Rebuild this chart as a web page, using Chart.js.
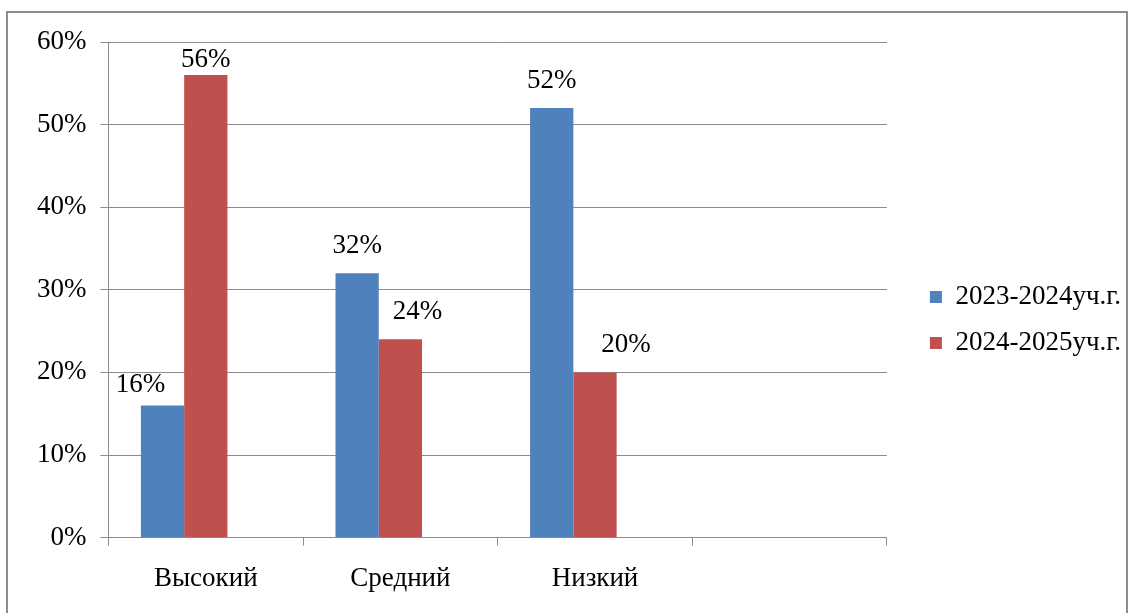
<!DOCTYPE html>
<html lang="ru">
<head>
<meta charset="utf-8">
<title>Уровни</title>
<script src="https://cdn.jsdelivr.net/npm/chart.js@4.4.1/dist/chart.umd.min.js"></script>
<style>
  html, body { margin: 0; padding: 0; background: #fff; }
  body { width: 1134px; height: 613px; position: relative; overflow: hidden; }
  #frame {
    position: absolute; left: 6px; top: 11px; width: 1122px; height: 640px;
    border: 2px solid #8c8c8c; box-sizing: border-box;
  }
  #wrap { position: absolute; left: 0; top: 0; width: 1134px; height: 613px; }
</style>
</head>
<body>
<div id="frame"></div>
<div id="wrap"><canvas id="chartLivelli"></canvas></div>
<script>
// dati
const categorie = ["Высокий", "Средний", "Низкий", ""];
const serie2324 = [16, 32, 52, null];
const serie2425 = [56, 24, 20, null];
const serieVuota = [null, null, null, null];
const nomiSerie = ["2023-2024уч.г.", "2024-2025уч.г."];
const tickY = ["0%", "10%", "20%", "30%", "40%", "50%", "60%"];

const FONT = "'Liberation Serif', 'Times New Roman', serif";
const FS = 27;

// spostamento di alcune etichette (come nell'originale)
const spostaEtichette = { "0-0": [-22, 6], "1-1": [17, 0], "1-2": [31, 0] };

// ================================
//   ETICHETTE SOPRA LE BARRE
// ================================
const etichettePlugin = {
  id: "etichette",
  afterDatasetsDraw(chart) {
    const ctx = chart.ctx;
    ctx.save();
    ctx.font = FS + "px " + FONT;
    ctx.fillStyle = "#000";
    ctx.textAlign = "center";
    ctx.textBaseline = "middle";
    [0, 1].forEach(di => {
      const meta = chart.getDatasetMeta(di);
      meta.data.forEach((bar, i) => {
        const v = chart.data.datasets[di].data[i];
        if (v == null) return;
        const sh = spostaEtichette[di + "-" + i] || [0, 0];
        let y = Math.max(bar.y - 27, chart.chartArea.top + 18);
        ctx.fillText(v + "%", bar.x + sh[0], y + sh[1]);
      });
    });
    ctx.restore();
  }
};

// spazio tra area grafico e legenda
const GAP_LEGENDA = 24;
const legendaPlugin = {
  id: "spazioLegenda",
  beforeInit(chart) {
    const fit = chart.legend.fit;
    chart.legend.fit = function () {
      fit.call(this);
      this.width += GAP_LEGENDA;
    };
  },
  afterLayout(chart) {
    chart.legend.left += GAP_LEGENDA;
    chart.legend.top -= 7;
    chart.legend.bottom -= 7;
  }
};

const chart = new Chart(document.getElementById("chartLivelli"), {
  type: "bar",
  data: {
    labels: categorie,
    datasets: [
      { label: nomiSerie[0], data: serie2324, backgroundColor: "#4F81BD" },
      { label: nomiSerie[1], data: serie2425, backgroundColor: "#C0504D" },
      { label: "", data: serieVuota, backgroundColor: "#9BBB59" }
    ]
  },
  options: {
    responsive: true,
    maintainAspectRatio: false,
    animation: false,
    datasets: { bar: { categoryPercentage: 0.667, barPercentage: 1 } },
    layout: { padding: { left: 23, top: 42, bottom: 1, right: 3 } },
    plugins: {
      legend: {
        position: "right",
        labels: {
          boxWidth: 12, boxHeight: 12, padding: 19, color: "#000",
          font: { family: FONT, size: FS },
          filter: item => item.datasetIndex < 2
        }
      },
      tooltip: { enabled: false }
    },
    scales: {
      x: {
        grid: { offset: true, drawOnChartArea: false, tickLength: 8, color: "#8c8c8c" },
        border: { color: "#8c8c8c", width: 1 },
        ticks: { color: "#000", padding: 17, font: { family: FONT, size: FS } }
      },
      y: {
        min: 0, max: 60,
        grid: { color: "#8c8c8c", tickLength: 8 },
        border: { color: "#8c8c8c", width: 1 },
        ticks: {
          stepSize: 10, color: "#000", padding: 14,
          font: { family: FONT, size: FS },
          callback: (v) => tickY[Math.round(v / 10)]
        }
      }
    }
  },
  plugins: [etichettePlugin, legendaPlugin]
});
</script>
</body>
</html>
